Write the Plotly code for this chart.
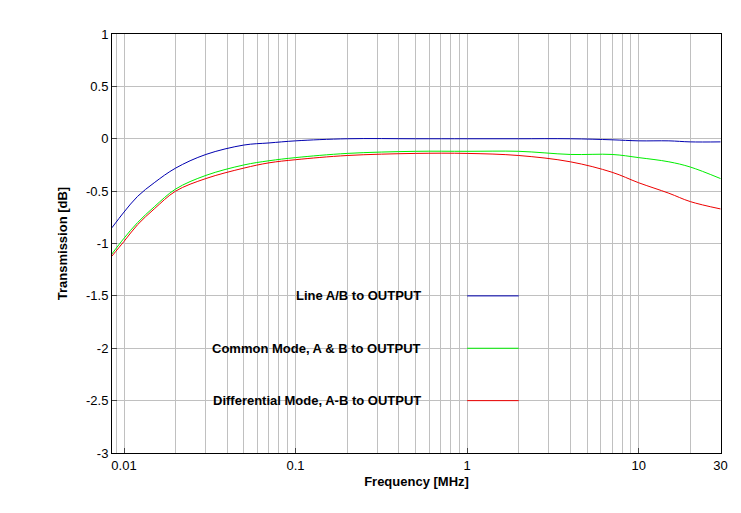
import math
import plotly.graph_objects as go

freq = [0.0085, 0.01, 0.012, 0.015, 0.02, 0.03, 0.05, 0.07, 0.1, 0.2, 0.5, 1, 2, 4, 7, 10, 15, 20, 30]
line_ab = [-0.85, -0.70, -0.55, -0.42, -0.28, -0.15, -0.06, -0.04, -0.02, 0.0, 0.0, 0.0, 0.0, 0.0, -0.01, -0.02, -0.02, -0.03, -0.03]
common = [-1.10, -0.95, -0.80, -0.65, -0.48, -0.35, -0.25, -0.21, -0.18, -0.14, -0.12, -0.12, -0.12, -0.15, -0.15, -0.18, -0.22, -0.27, -0.38]
diff = [-1.12, -0.98, -0.82, -0.67, -0.50, -0.38, -0.28, -0.23, -0.20, -0.16, -0.14, -0.14, -0.16, -0.22, -0.32, -0.42, -0.52, -0.60, -0.67]

names = ["Line A/B to OUTPUT", "Common Mode, A & B to OUTPUT", "Differential Mode, A-B to OUTPUT"]
colors = ["#0000b0", "#00ee00", "#ee0000"]
legend_y = [-1.5, -2.0, -2.5]

fig = go.Figure()
for ys, c in zip([line_ab, common, diff], colors):
    fig.add_trace(go.Scatter(x=freq, y=ys, mode="lines", line=dict(color=c, width=1), line_shape="spline"))

for n, c, ly in zip(names, colors, legend_y):
    fig.add_trace(go.Scatter(x=[1, 2], y=[ly, ly], mode="lines", line=dict(color=c, width=1)))
    fig.add_annotation(x=math.log10(0.55), y=ly, text="<b>" + n + "</b>", showarrow=False, xanchor="right",
                       font=dict(size=13, color="black"))

minor_vals = [m * 10 ** e for e in range(-3, 2) for m in range(2, 10)]
fig.update_xaxes(type="log", range=[-2.07, 1.48], tickvals=[0.01, 0.1, 1, 10, 30],
                 ticktext=["0.01", "0.1", "1", "10", "30"],
                 showgrid=True, gridcolor="#c0c0c0",
                 minor=dict(tickmode="array", tickvals=minor_vals, showgrid=True, gridcolor="#c0c0c0", ticks=""),
                 showline=True, linecolor="black", mirror=True, ticks="inside", zeroline=False,
                 title=dict(text="<b>Frequency [MHz]</b>", standoff=5, font=dict(size=13)), tickfont=dict(size=13))
fig.update_yaxes(range=[-3, 1], showgrid=True, gridcolor="#c0c0c0",
                 tickvals=[-3, -2.5, -2, -1.5, -1, -0.5, 0, 0.5, 1],
                 ticktext=["-3", "-2.5", "-2", "-1.5", "-1", "-0.5", "0", "0.5", "1"],
                 showline=True, linecolor="black", mirror=True, ticks="inside", zeroline=False,
                 title=dict(text="<b>Transmission [dB]</b>", font=dict(size=13)), tickfont=dict(size=13))
fig.update_layout(width=741, height=513, showlegend=False, plot_bgcolor="white", paper_bgcolor="white",
                  margin=dict(l=104, r=28, t=26, b=68),
                  font=dict(family="Liberation Sans, Arial", size=13, color="black"))
fig.write_html("out.html")
